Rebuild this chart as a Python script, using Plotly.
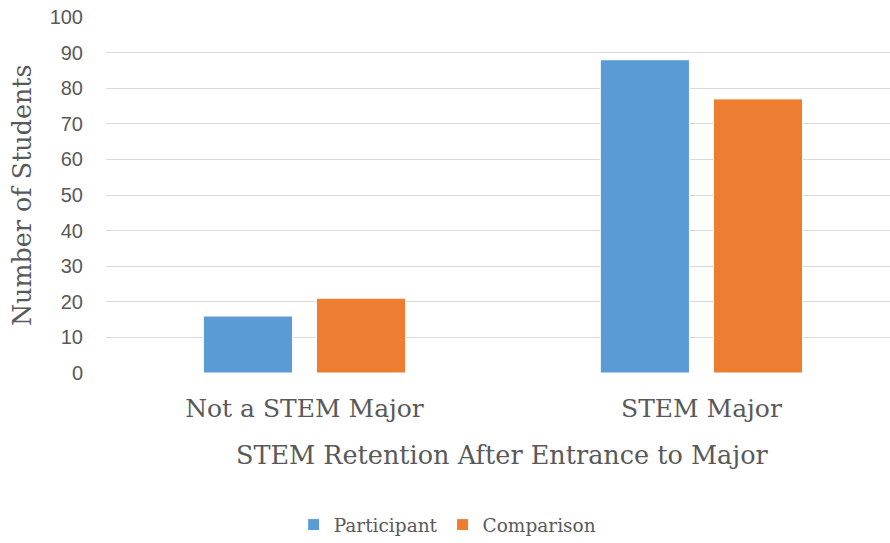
import plotly.graph_objects as go

categories = ["Not a STEM Major", "STEM Major"]
participant = [16, 88]
comparison = [21, 77]
y_ticks = list(range(0, 101, 10))

BLUE = "#5B9BD5"
ORANGE = "#ED7D31"
GRAY = "#595959"
SANS = "Liberation Sans, Arial, sans-serif"
SERIF = "DejaVu Serif"

fig = go.Figure()
fig.add_trace(go.Bar(name="Participant", x=categories, y=participant,
                     marker=dict(color=BLUE, line=dict(color="white", width=1))))
fig.add_trace(go.Bar(name="Comparison", x=categories, y=comparison,
                     marker=dict(color=ORANGE, line=dict(color="white", width=1))))

fig.update_layout(
    width=890, height=543,
    margin=dict(l=106, r=0, t=17, b=170),
    paper_bgcolor="white", plot_bgcolor="white",
    barmode="group", bargap=0.43, bargroupgap=0.212,
    showlegend=True,
    legend=dict(orientation="h", xref="container", yref="container",
                x=0.503, xanchor="center", y=0.033, yanchor="middle",
                font=dict(family=SERIF, size=18.5, color=GRAY),
                itemwidth=30, traceorder="normal"),
    xaxis=dict(range=[-0.5, 1.475], showgrid=False, zeroline=False,
               showline=False, ticks="", ticklabelstandoff=18,
               tickfont=dict(family=SERIF, size=25, color=GRAY)),
    yaxis=dict(range=[0, 100], tickvals=y_ticks, showgrid=True,
               gridcolor="#D9D9D9", gridwidth=1.3, zeroline=False,
               showline=False, ticks="", ticklabelstandoff=22,
               tickfont=dict(family=SANS, size=20, color=GRAY)),
    annotations=[
        dict(text="Number of Students", xref="paper", yref="paper",
             x=-0.107, y=0.5, xanchor="center", yanchor="middle",
             textangle=-90, showarrow=False,
             font=dict(family=SERIF, size=25.4, color=GRAY)),
        dict(text="STEM Retention After Entrance to Major", xref="paper",
             yref="paper", x=0.506, y=-0.230, xanchor="center",
             yanchor="middle", showarrow=False,
             font=dict(family=SERIF, size=25.5, color=GRAY)),
    ],
)

fig.write_html("out.html")
